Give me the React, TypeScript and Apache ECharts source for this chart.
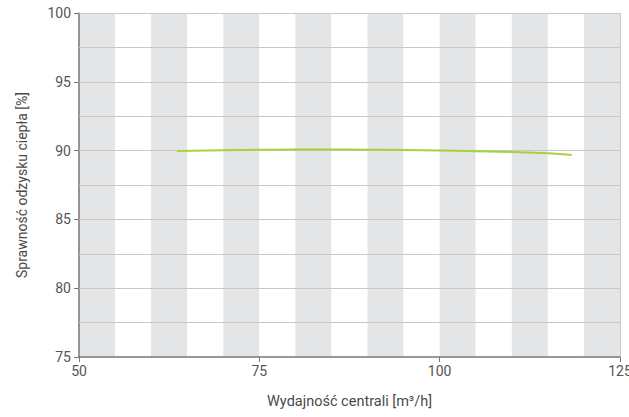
import React, { useEffect, useRef } from "react";
import * as echarts from "echarts";

const xValues = [63.6, 70, 75, 80, 85, 90, 95, 100, 105, 110, 115, 118.3];
const yValues = [89.98, 90.03, 90.06, 90.08, 90.08, 90.07, 90.05, 90.01, 89.96, 89.9, 89.8, 89.68];
const xTicks = [50, 75, 100, 125];
const yTicks = [75, 80, 85, 90, 95, 100];
const yGridLines = [77.5, 80, 82.5, 85, 87.5, 90, 92.5, 95, 97.5, 100];
const xGridLines = [125];

export default function App() {
  const ref = useRef<HTMLDivElement>(null);
  useEffect(() => {
    const chart = echarts.init(ref.current!, null, { renderer: "svg" });
    const font = "Roboto";
    chart.setOption({
      animation: false,
      grid: { left: 79, right: 9, top: 13, bottom: 60, outerBoundsMode: "none", containLabel: false },
      xAxis: [
        {
          type: "value",
          min: xTicks[0],
          max: xTicks[xTicks.length - 1],
          interval: 25,
          name: "Wydajność centrali [m³/h]",
          nameLocation: "middle",
          nameGap: 37,
          nameTextStyle: { color: "#4a4a4a", fontSize: 14.5, fontFamily: font },
          axisLine: { lineStyle: { color: "#777", width: 1.5 } },
          axisTick: { lineStyle: { color: "#777" } },
          axisLabel: { color: "#555", fontSize: 14, fontFamily: font, margin: 7 },
          splitLine: { show: false },
          z: 3,
        },
        {
          type: "value",
          min: 50,
          max: 125,
          interval: 5,
          show: true,
          position: "bottom",
          axisLine: { show: false },
          axisTick: { show: false },
          axisLabel: { show: false },
          splitLine: { show: false },
          splitArea: { show: true, areaStyle: { color: ["#e4e5e7", "#ffffff"] } },
          z: 0,
        },
      ],
      yAxis: {
        type: "value",
        min: yTicks[0],
        max: yTicks[yTicks.length - 1],
        interval: 5,
        name: "Sprawność odzysku ciepła [%]",
        nameLocation: "middle",
        nameGap: 50,
        nameTextStyle: { color: "#4a4a4a", fontSize: 14, fontFamily: font },
        axisLine: { show: true, lineStyle: { color: "#777", width: 1.5 } },
        axisTick: { show: true, lineStyle: { color: "#777" } },
        axisLabel: { color: "#555", fontSize: 14, fontFamily: font, margin: 8 },
        splitLine: { show: false },
        z: 3,
      },
      series: [
        {
          type: "line",
          xAxisIndex: 0,
          data: [],
          silent: true,
          z: 2,
          markLine: {
            silent: true,
            symbol: "none",
            label: { show: false },
            lineStyle: { color: "#c8c8c8", width: 1, type: "solid" },
            data: [
              ...yGridLines.map((v) => ({ yAxis: v })),
              ...xGridLines.map((v) => ({ xAxis: v })),
            ],
          },
        },
        {
          type: "line",
          xAxisIndex: 0,
          data: xValues.map((x, i) => [x, yValues[i]]),
          smooth: true,
          showSymbol: false,
          lineStyle: { color: "#a6d23a", width: 2 },
          z: 5,
        },
      ],
    });
    return () => chart.dispose();
  }, []);
  return <div ref={ref} style={{ width: 629, height: 417, position: "absolute", left: 0, top: 0 }} />;
}
